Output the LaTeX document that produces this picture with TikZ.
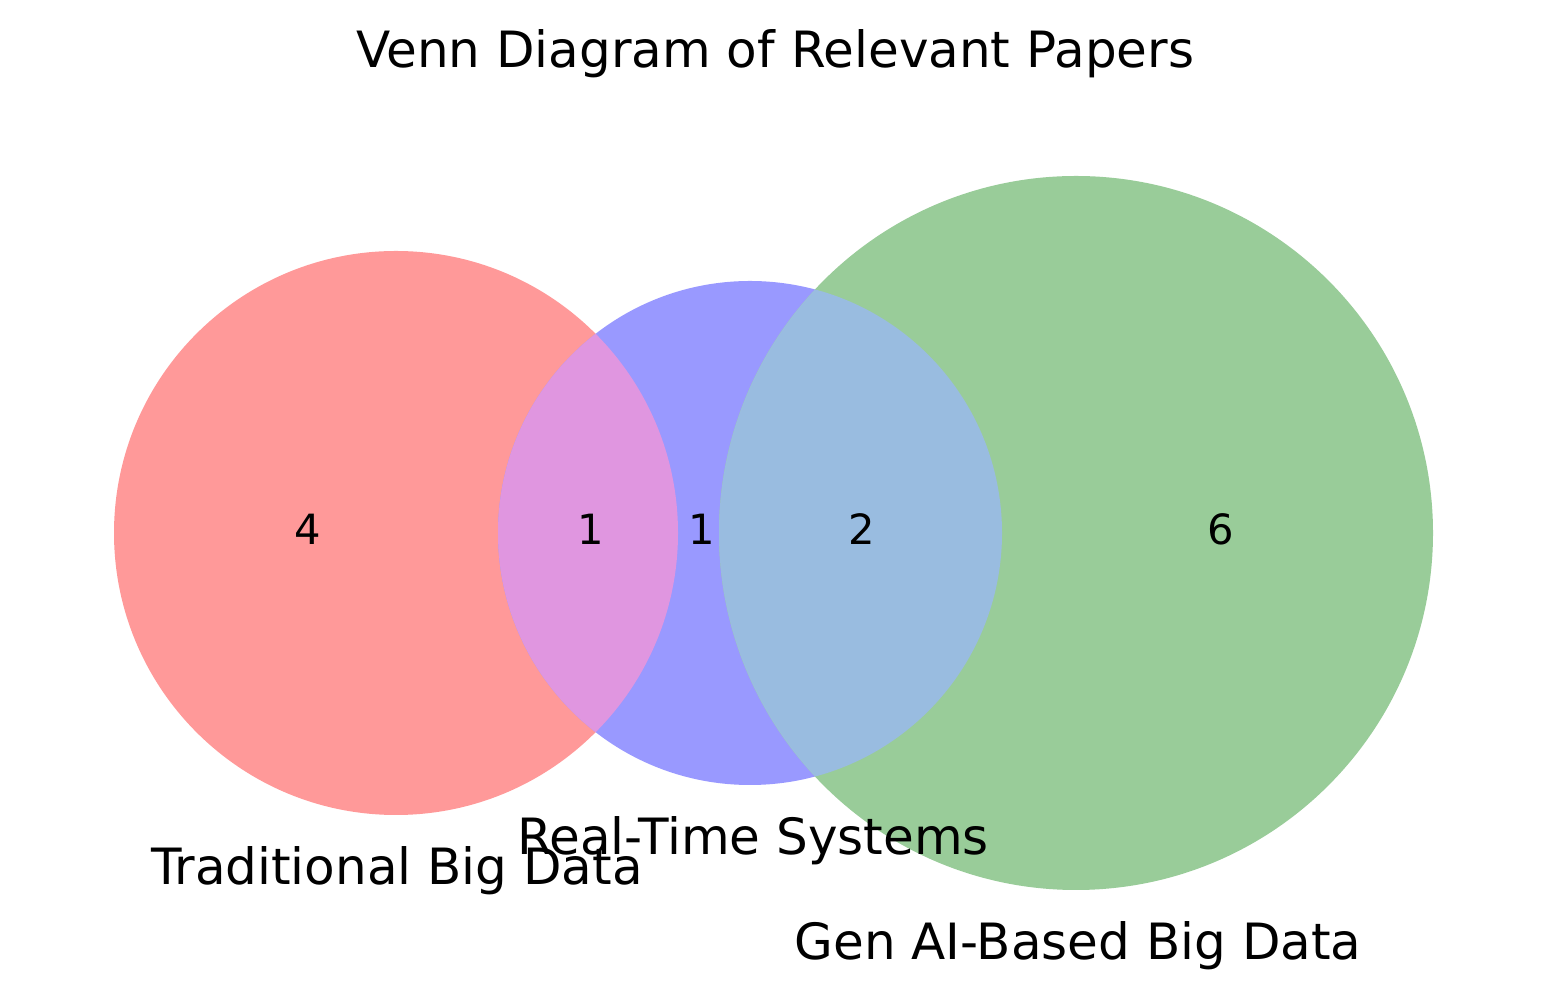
\documentclass[tikz,border=0pt]{standalone}
\usepackage{fontspec}
\setmainfont{DejaVu Sans}
\definecolor{setA}{RGB}{255,153,153}
\definecolor{setB}{RGB}{153,153,255}
\definecolor{setC}{RGB}{153,204,153}
\definecolor{setAB}{RGB}{224,150,224}
\definecolor{setBC}{RGB}{153,188,224}
\begin{document}
\begin{tikzpicture}[x=0.24pt,y=-0.24pt,
  count/.style={font=\fontsize{10}{12}\selectfont, anchor=base},
  setlabel/.style={font=\fontsize{12}{14}\selectfont, anchor=base}]
\useasboundingbox (0,0) rectangle (1548,1005);
\fill[white] (0,0) rectangle (1548,1005);
% the three sets
\fill[setA] (396,533) circle[radius=282];
\fill[setB] (750,533) circle[radius=252];
\fill[setC] (1076,533) circle[radius=357];
% overlaps
\begin{scope}
  \clip (396,533) circle[radius=282];
  \fill[setAB] (750,533) circle[radius=252];
\end{scope}
\begin{scope}
  \clip (750,533) circle[radius=252];
  \fill[setBC] (1076,533) circle[radius=357];
\end{scope}
% region counts
\node[count] (nA) at (308,545) {4};
\node[count] (nAB) at (591,545) {1};
\node[count] (nB) at (702,545) {1};
\node[count] (nBC) at (862,545) {2};
\node[count] (nC) at (1221,545) {6};
% set labels
\node[setlabel] (lA) at (397,885) {Traditional Big Data};
\node[setlabel] (lB) at (753,855) {Real-Time Systems};
\node[setlabel] (lC) at (1078,960) {Gen AI-Based Big Data};
% title
\node[setlabel] (title) at (775,68) {Venn Diagram of Relevant Papers};
\end{tikzpicture}
\end{document}
